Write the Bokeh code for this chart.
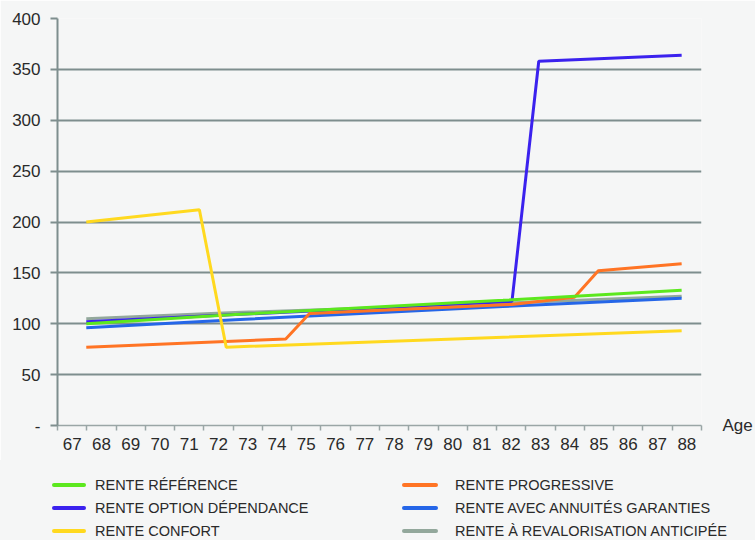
from bokeh.plotting import figure
from bokeh.models import FixedTicker, Range1d, LinearAxis, Div
from bokeh.layouts import column
from bokeh.embed import file_html
from bokeh.resources import INLINE

# ---- data ----
age_labels = list(range(67, 89))            # axis categories 67..88
y_ticks = [0, 50, 100, 150, 200, 250, 300, 350, 400]

ref_x = [68, 73, 82, 88]
ref_y = [100, 109, 123, 133]

prog_x = [68, 74.7, 75.5, 82.3, 84.4, 85.2, 88]
prog_y = [77, 85, 110, 119, 126, 152, 159]

dep_x = [68, 82.3, 83.2, 88]
dep_y = [102, 122, 358, 364]

ann_x = [68, 73, 82, 88]
ann_y = [96, 104, 117, 125]

conf_x = [68, 71.8, 72.7, 88]
conf_y = [200, 212, 77, 93]

reval_x = [68, 73, 80, 88]
reval_y = [105, 111, 118, 127]

names = ["RENTE RÉFÉRENCE", "RENTE OPTION DÉPENDANCE", "RENTE CONFORT",
         "RENTE PROGRESSIVE", "RENTE AVEC ANNUITÉS GARANTIES",
         "RENTE À REVALORISATION ANTICIPÉE"]
colors = ["#5ce81e", "#3b22ee", "#ffd91f", "#ff7424", "#2566e8", "#93a89c"]

# ---- layout helpers ----
def px_to_age(px):
    return 68 + (px - 86) / 30.0

x_left = px_to_age(57)
x_right = px_to_age(706)
slot_edges = [px_to_age(57 + 29.5 * k) for k in range(len(age_labels) + 1)]
slot_centers = [px_to_age(57 + 29.5 * (k + 0.5)) for k in range(len(age_labels))]

BG = "#f5f6f6"
GRID = "#7e8e8e"
AXIS2 = "#9aa6a6"
TXT = "#2a2a2a"
FONT = "Liberation Sans"

p = figure(width=755, height=460, output_backend="svg", toolbar_location=None,
           x_range=Range1d(x_left, x_right), y_range=Range1d(0, 400),
           min_border_left=57, min_border_right=49, min_border_top=18,
           min_border_bottom=35)
p.background_fill_color = BG
p.border_fill_color = BG
p.outline_line_color = None

# y axis
p.yaxis.ticker = FixedTicker(ticks=y_ticks)
p.yaxis.major_label_overrides = {0: "-"}
p.yaxis.axis_line_color = GRID
p.yaxis.axis_line_width = 2
p.yaxis.major_tick_line_color = GRID
p.yaxis.major_tick_line_width = 2
p.yaxis.major_tick_out = 7
p.yaxis.major_tick_in = 0
p.yaxis.minor_tick_line_color = None
p.yaxis.major_label_text_font = FONT
p.yaxis.major_label_text_font_size = "17px"
p.yaxis.major_label_text_color = TXT
p.yaxis.major_label_standoff = 10

# x axis
p.xaxis.ticker = FixedTicker(ticks=slot_centers, minor_ticks=slot_edges)
p.xaxis.major_label_overrides = {c: str(a) for c, a in zip(slot_centers, age_labels)}
p.xaxis.axis_line_color = AXIS2
p.xaxis.axis_line_width = 1.5
p.xaxis.major_tick_line_color = None
p.xaxis.minor_tick_line_color = AXIS2
p.xaxis.minor_tick_line_width = 1.5
p.xaxis.minor_tick_out = 5
p.xaxis.minor_tick_in = 0
p.xaxis.major_label_text_font = FONT
p.xaxis.major_label_text_font_size = "17px"
p.xaxis.major_label_text_color = TXT
p.xaxis.major_label_standoff = 6

# "Age" caption at the right end of the x axis
age_axis = LinearAxis(ticker=FixedTicker(ticks=[0]), major_label_overrides={0: "Age"},
                      axis_line_color=None, major_tick_line_color=None,
                      minor_tick_line_color=None, major_label_standoff=15,
                      major_label_text_font=FONT, major_label_text_font_size="17px",
                      major_label_text_color=TXT)
p.add_layout(age_axis, "right")

p.xgrid.grid_line_color = None
p.ygrid.ticker = FixedTicker(ticks=y_ticks[1:])
p.ygrid.grid_line_color = GRID
p.ygrid.grid_line_width = 2

series = [(ref_x, ref_y), (dep_x, dep_y), (conf_x, conf_y),
          (prog_x, prog_y), (ann_x, ann_y), (reval_x, reval_y)]
draw_order = [5, 1, 4, 3, 0, 2]
for i in draw_order:
    xs, ys = series[i]
    p.line(xs, ys, line_color=colors[i], line_width=3)

# ---- legend strip below the chart (two columns of three) ----
col_geom = [(52, 34, 95), (402, 36, 455)]     # key left, key length, text left
row_mid = [24.5, 47.5, 71]
parts = []
for i, (name, c) in enumerate(zip(names, colors)):
    kx, kw, tx = col_geom[i // 3]
    cy = row_mid[i % 3]
    parts.append(
        f'<div style="position:absolute;left:{kx}px;top:{cy - 2}px;width:{kw}px;'
        f'height:4px;background:{c};border-radius:2px"></div>')
    parts.append(
        f'<div style="position:absolute;left:{tx}px;top:{cy - 9}px;line-height:18px;'
        f'white-space:nowrap">{name}</div>')
html = (f'<div style="position:relative;width:755px;height:80px;background:{BG};'
        f"font-family:'{FONT}';font-size:14.5px;color:{TXT}\">" + "".join(parts) + "</div>")
legend_div = Div(text=html, width=755, height=80, margin=0,
                 styles={"background-color": BG})

open("out.html", "w").write(file_html(column(p, legend_div, spacing=0), INLINE))
